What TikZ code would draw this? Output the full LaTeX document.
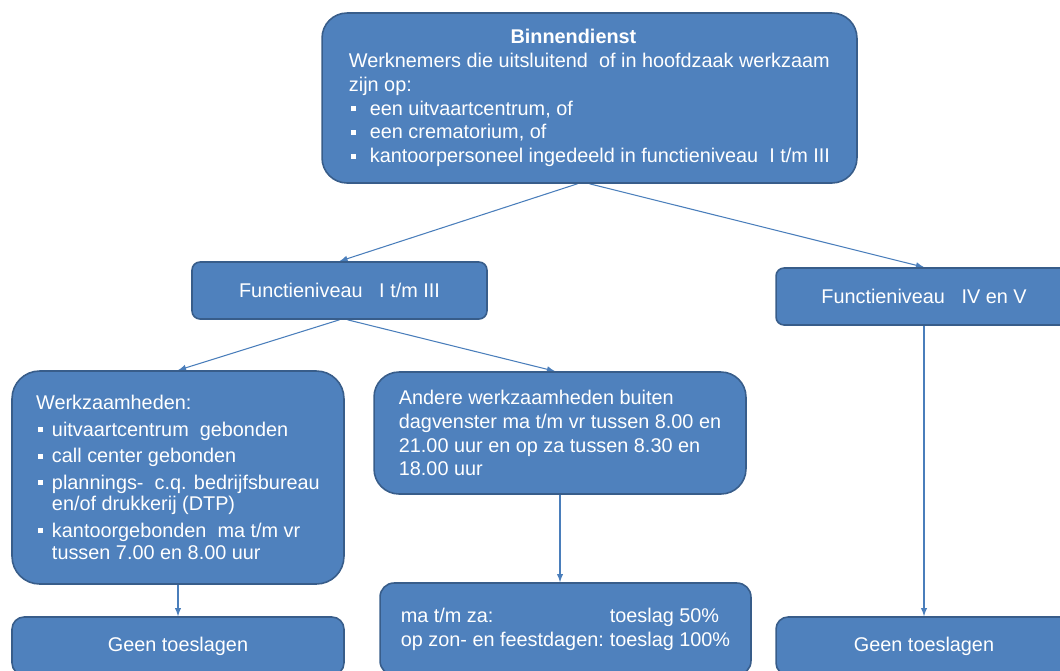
\documentclass[tikz,border=0pt]{standalone}
\usepackage{fontspec}
\setmainfont{Liberation Sans}
\pgfdeclarelayer{edgelayer}
\pgfdeclarelayer{nodelayer}
\pgfsetlayers{edgelayer,nodelayer,main}
\definecolor{boxfill}{HTML}{4F81BD}
\definecolor{boxline}{HTML}{385D8A}
\definecolor{flowline}{HTML}{4A7EBB}
\tikzstyle{none}=[inner sep=0pt]
\tikzstyle{blue_box}=[draw=boxline,fill=boxfill,text=white,line width=0.9pt,align=left,inner sep=0pt,font=\fontsize{11.3}{13.6}\selectfont]
\tikzstyle{flow}=[-latex,draw=flowline,line width=0.6pt]
\newcommand{\sqbul}[1][11.9pt]{\makebox[#1][l]{\hspace{1pt}\rule[2.3pt]{2.8pt}{2.8pt}}}

\begin{document}
\begin{tikzpicture}[x=0.02cm,y=-0.02cm]
	\useasboundingbox (0,0) rectangle (1060,670);
	\begin{pgfonlayer}{nodelayer}
		\node [style={blue_box}, minimum width=10.7cm, minimum height=3.4cm, rounded corners=0.5cm] (0) at (589.5, 98) {\hspace*{92pt}\textbf{Binnendienst}\\ Werknemers die uitsluitend\ \ of in hoofdzaak werkzaam\\ zijn op:\\ \sqbul een uitvaartcentrum, of\\ \sqbul een crematorium, of\\ \sqbul kantoorpersoneel ingedeeld in functieniveau\ \ I t/m III};
		\node [style={blue_box}, minimum width=5.9cm, minimum height=1.14cm, rounded corners=0.16cm] (1) at (339.5, 290.5) {Functieniveau\ \ \ I t/m III};
		\node [style={blue_box}, minimum width=5.92cm, minimum height=1.14cm, rounded corners=0.16cm] (2) at (924, 296.5) {Functieniveau\ \ \ IV en V};
		\node [style={blue_box}, minimum width=6.64cm, minimum height=4.26cm, rounded corners=0.55cm, font=\fontsize{11.3}{12.5}\selectfont] (3) at (178, 477.5) {Werkzaamheden:\\[2.5pt] \sqbul[9pt]uitvaartcentrum\ \ gebonden\\[2.5pt] \sqbul[9pt]call center gebonden\\[2.5pt] \sqbul[9pt]plannings-\ \ c.q. bedrijfsbureau\\ \hspace*{9pt}en/of drukkerij (DTP)\\[2.5pt] \sqbul[9pt]kantoorgebonden\ \ ma t/m vr\\ \hspace*{9pt}tussen 7.00 en 8.00 uur};
		\node [style={blue_box}, minimum width=7.44cm, minimum height=2.44cm, rounded corners=0.5cm] (4) at (560, 433) {Andere werkzaamheden buiten\\ dagvenster ma t/m vr tussen 8.00 en\\ 21.00 uur en op za tussen 8.30 en\\ 18.00 uur};
		\node [style={blue_box}, minimum width=6.64cm, minimum height=1.16cm, rounded corners=0.24cm] (5) at (178, 646) {Geen toeslagen};
		\node [style={blue_box}, minimum width=7.42cm, minimum height=1.84cm, rounded corners=0.28cm] (6) at (565.5, 629) {\makebox[119pt][l]{ma t/m za:}toeslag 50\%\\ \makebox[119pt][l]{op zon- en feestdagen:}toeslag 100\%};
		\node [style={blue_box}, minimum width=5.92cm, minimum height=1.16cm, rounded corners=0.24cm] (7) at (924, 646) {Geen toeslagen};
	\end{pgfonlayer}
	\begin{pgfonlayer}{edgelayer}
		\draw [style=flow] ([xshift=-0.24cm]0.south) to (1.north);
		\draw [style=flow] (0.south) to (2.north);
		\draw [style=flow] (1.south) to (3.north);
		\draw [style=flow] ([xshift=0.16cm]1.south) to ([xshift=-0.1cm]4.north);
		\draw [style=flow] (3.south) to (5.north);
		\draw [style=flow] (4.south) to (4.south |- 6.north);
		\draw [style=flow] (2.south) to (7.north);
	\end{pgfonlayer}
\end{tikzpicture}
\end{document}
